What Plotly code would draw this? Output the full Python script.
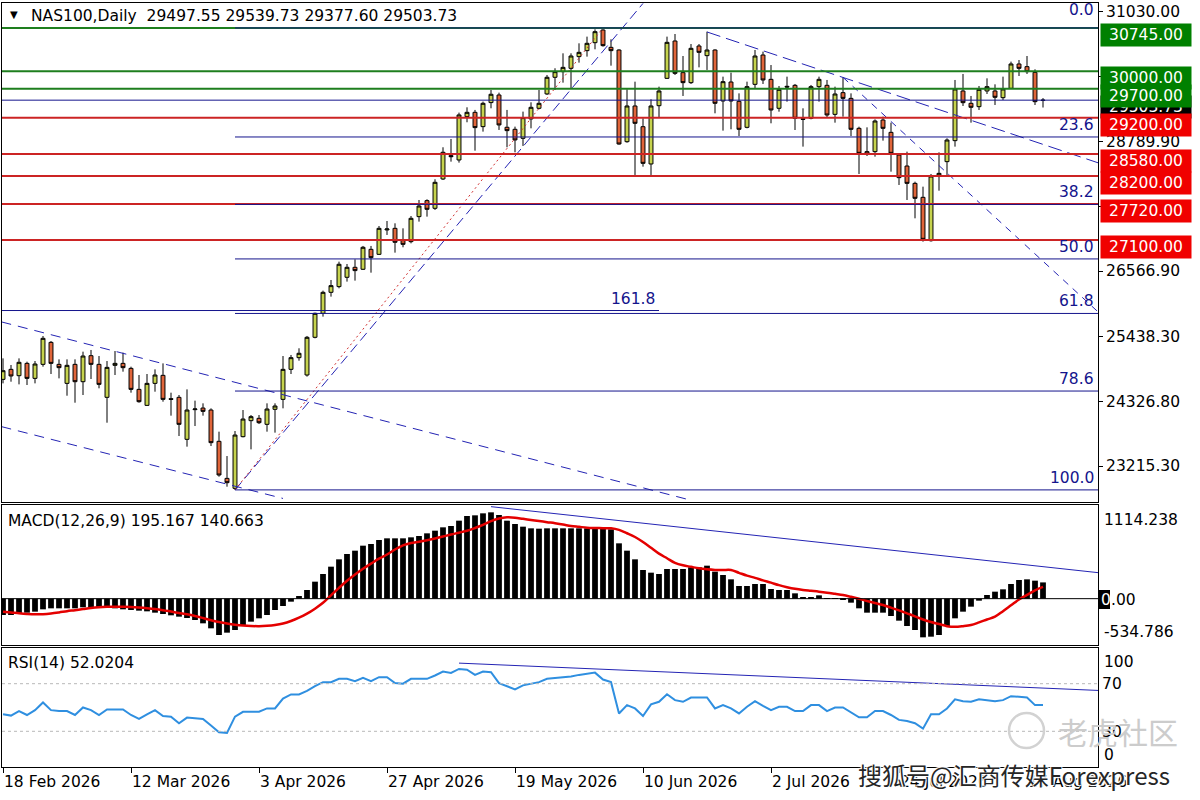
from plotly import graph_objects as go

# ---- values (bar index 0..130) ----
bar_open = [24705, 24877, 24768, 24980, 24722, 24963, 25341, 24963, 24636, 24963,
            24665, 25112, 24963, 24396, 24946, 24980, 24894, 24533, 24258, 24636,
            24774, 24373, 24396, 23674, 24184, 24212, 24178, 23640, 23003, 22832,
            23720, 23995, 24035, 23932, 24190, 24361, 24877, 25078, 24780, 25428,
            25840, 26201, 26299, 26459, 26631, 26597, 26940, 26854, 27273, 27301,
            27089, 27072, 27502, 27777, 27645, 28149, 28551, 28476, 29221, 29295,
            29049, 29462, 29593, 29038, 29003, 28848, 29181, 29364, 29611, 29897,
            29994, 30051, 30252, 30355, 30492, 30710, 30412, 30366, 28790, 29404,
            29048, 28407, 29409, 29879, 30521, 29977, 29805, 30435, 30269, 30366,
            29490, 29816, 29484, 29037, 29776, 30280, 29862, 29364, 29742, 29759,
            29186, 29192, 29736, 29759, 29260, 29633, 29535, 29020, 28619, 28619,
            29163, 28951, 28561, 28372, 28074, 27834, 27089, 28218, 28447, 28808,
            29662, 29450, 29392, 29662, 29662, 29547, 29707, 30126, 30080, 29982,
            29497.55]
bar_high = [25066, 24952, 25066, 25009, 25020, 25450, 25364, 25049, 25049, 25049,
            25181, 25210, 25106, 25020, 25192, 25164, 24923, 24780, 24797, 24877,
            24980, 24476, 24436, 24533, 24339, 24293, 24207, 23806, 23387, 23817,
            24178, 24092, 24092, 24293, 24293, 25106, 25124, 25239, 25451, 25852,
            26230, 26413, 26728, 26688, 26768, 26998, 26998, 27341, 27427, 27387,
            27301, 27513, 27788, 27800, 28144, 28694, 28837, 29290, 29381, 29336,
            29479, 29679, 29633, 29336, 29049, 29307, 29467, 29679, 29937, 30052,
            30309, 30309, 30481, 30596, 30722, 30722, 30550, 30378, 29690, 29822,
            29192, 29518, 29736, 30596, 30641, 30263, 30469, 30469, 30681, 30378,
            29908, 29977, 29621, 29822, 30366, 30338, 30108, 29747, 29908, 29782,
            29364, 29765, 29908, 29851, 29736, 29896, 29621, 29048, 29037, 29174,
            29220, 29117, 28590, 28619, 28103, 28017, 28235, 28607, 28848, 29851,
            29954, 29576, 29747, 29879, 29776, 29908, 30166, 30194, 30263, 30034,
            29539.73]
bar_low = [24636, 24665, 24619, 24608, 24636, 24923, 24797, 24722, 24424, 24304,
           24436, 24711, 24551, 23960, 24780, 24837, 24476, 24304, 24247, 24493,
           24321, 24081, 23731, 23548, 23903, 24081, 23559, 23032, 22860, 22805,
           23708, 23502, 23937, 23806, 23789, 24207, 24797, 25026, 24752, 25410,
           25783, 26127, 26270, 26385, 26402, 26585, 26539, 26843, 27187, 26883,
           26975, 27043, 27416, 27502, 27617, 28132, 28447, 28430, 29124, 28636,
           28963, 29364, 28992, 28694, 28608, 28717, 29020, 29347, 29593, 29679,
           29805, 29707, 30149, 30252, 30378, 30424, 30097, 28739, 28773, 28218,
           28361, 28218, 29209, 29868, 29937, 29576, 29782, 30068, 30023, 29278,
           28980, 29003, 28888, 29020, 29707, 29782, 29106, 29306, 29478, 28991,
           28705, 29175, 29478, 29209, 29117, 29220, 28888, 28235, 28544, 28533,
           28808, 28275, 28046, 27788, 27473, 27072, 27072, 27948, 28218, 28705,
           29404, 29117, 29335, 29610, 29421, 29507, 29696, 29919, 29954, 29421,
           29377.60]
bar_close = [24854, 24763, 24998, 24722, 24969, 25410, 24980, 24906, 24946, 24665,
             25106, 24963, 24619, 24911, 24980, 24906, 24533, 24321, 24636, 24780,
             24361, 24361, 23932, 24178, 24196, 24155, 23617, 23061, 22929, 23748,
             24023, 24064, 23960, 24195, 24247, 24877, 25078, 25153, 25428, 25840,
             26201, 26316, 26683, 26631, 26574, 26975, 26797, 27301, 27290, 27061,
             27026, 27473, 27685, 27628, 28092, 28608, 28533, 29250, 29295, 29032,
             29450, 29605, 29078, 28980, 28820, 29204, 29381, 29450, 29897, 29994,
             30068, 30263, 30326, 30481, 30681, 30441, 30355, 28750, 29404, 29106,
             28418, 29404, 29662, 30498, 29965, 29805, 30395, 30326, 30366, 29450,
             29822, 29490, 29003, 29736, 30263, 29851, 29335, 29690, 29730, 29192,
             29175, 29736, 29862, 29249, 29610, 29535, 29003, 28590, 28579, 29146,
             29020, 28590, 28172, 28074, 27817, 27112, 28200, 28246, 28819, 29696,
             29461, 29381, 29690, 29736, 29553, 29696, 30126, 30051, 29994, 29478,
             29503.73]

macd_main = [-196, -196, -176, -168, -156, -128, -116, -116, -116, -116,
             -104, -104, -108, -112, -116, -128, -136, -144, -152, -168,
             -184, -200, -216, -232, -256, -296, -356, -436, -408, -376,
             -316, -276, -236, -196, -136, -88, -36, 32, 104, 204,
             296, 384, 472, 536, 576, 636, 656, 704, 724, 724,
             724, 736, 752, 784, 816, 856, 872, 936, 992, 1000,
             1024, 1036, 1004, 936, 896, 864, 844, 840, 844, 844,
             844, 844, 844, 844, 848, 840, 832, 664, 576, 472,
             344, 312, 296, 356, 356, 356, 376, 376, 396, 324,
             284, 232, 152, 152, 176, 176, 116, 104, 104, 64,
             16, 16, 40, -4, -4, -8, -48, -116, -168, -168,
             -168, -208, -264, -328, -376, -464, -456, -436, -328, -236,
             -156, -96, -24, 44, 84, 112, 176, 224, 232, 216,
             195.167]
macd_signal = [-156, -165, -175, -183, -188, -186, -178, -165, -150, -138,
               -125, -112, -103, -98, -96, -97, -100, -106, -114, -124,
               -138, -155, -172, -188, -208, -232, -258, -280, -298, -312,
               -322, -328, -330, -326, -316, -298, -268, -228, -180, -120,
               -50, 40, 130, 215, 290, 360, 420, 480, 530, 590,
               640, 668, 684, 702, 722, 745, 770, 792, 815, 848,
               885, 930, 962, 976, 972, 958, 945, 932, 918, 905,
               890, 872, 862, 852, 848, 846, 844, 825, 785, 740,
               680, 610, 540, 485, 430, 400, 382, 364, 352, 345,
               344, 344, 310, 276, 250, 220, 192, 162, 138, 118,
               104, 94, 84, 72, 58, 44, 22, -2, -28, -52,
               -76, -108, -140, -176, -212, -250, -280, -305, -330, -338,
               -330, -316, -285, -250, -216, -150, -80, -10, 45, 100,
               140.663]
rsi_values = [44.3, 43.2, 47, 43.7, 47.8, 54.2, 47.8, 47, 47, 43.7,
              50, 47.8, 43.7, 48.4, 48.4, 48.4, 43.7, 40.4, 44.3, 47.8,
              42.9, 42.3, 36.8, 41.5, 40.9, 40.4, 34.9, 29.2, 28.6, 42.3,
              46.4, 46.4, 46.4, 49.2, 49.2, 57.5, 61, 61, 63.9, 68,
              71.3, 71.3, 74.1, 74.1, 72.1, 74.9, 72.1, 75.5, 75.5, 70.5,
              70, 74.1, 74.1, 74.1, 76.9, 80.2, 79.1, 82.4, 81.8, 77.4,
              80.2, 79.6, 70.5, 68, 65.2, 68.6, 70, 71.3, 74.1, 74.6,
              75.5, 76.1, 77.4, 78.3, 79.3, 73.5, 71.3, 45, 52, 49.2,
              42.9, 52.6, 54.8, 61.1, 56.2, 54.8, 58.4, 58.4, 58.4, 49.2,
              52, 49.2, 45, 50.6, 55.3, 51.4, 47.8, 50.6, 50.6, 47,
              47, 52, 52, 47, 50, 50, 45.9, 41.8, 41.8, 47,
              47, 43.7, 39.6, 38.7, 36.8, 32.2, 44.3, 44.3, 49.2, 56.9,
              55.3, 54.8, 56.9, 56.2, 55.3, 56.2, 59.5, 59, 58.4, 52,
              52.0204]

date_index = [0, 16, 32, 48, 64, 80, 96, 112, 128]
date_labels = ['18 Feb 2026', '12 Mar 2026', '3 Apr 2026', '27 Apr 2026', '19 May 2026',
               '10 Jun 2026', '2 Jul 2026', '24 Jul 2026', '17 Aug 2026']

price_ticks = [31030.00, 29909.95, 28789.90, 27678.40, 26566.90, 25438.30, 24326.80, 23215.30]
resistance = [30745, 30000, 29700]
support = [29200, 28580, 28200, 27720, 27100]
last_price = 29503.73

fib_ratios = [0.0, 23.6, 38.2, 50.0, 61.8, 78.6, 100.0]
fib_high = 30745
fib_low = 22805
fib_start = 29
fib_end = 75
ext_ratio = 161.8
ext_price = 25888
ext_span = [-1, 82]

# trendlines as (bar index, value) end points
tl_channel_up = ([-0.2, 86], [25693, 22627])
tl_channel_low = ([-0.2, 35], [23893, 22658])
tl_rise = ([29, 80], [22803, 31167])
tl_top = ([88, 137], [30676, 28422])
tl_steep = ([105, 137], [29896, 25850])
tl_macd = ([61, 137], [1104, 311])
tl_rsi = ([57, 137], [87.3, 64.3])

macd_top = 1114.238
macd_bottom = -534.786
rsi_levels = [70, 30]

# ---- styling ----
FONT = 'DejaVu Sans'
UP = '#c6d34e'
DOWN = '#e0653a'
NAVY = '#14148c'
BLUE = '#2424b4'
GREEN_LINE = '#1e7e1e'
RED_LINE = '#cc2424'
X_RANGE = [-0.125, 136.875]


def xp(px):
    return (px - 2) / 1096


def yp(py):
    return (767 - py) / 764


idx = list(range(len(bar_close)))

fig = go.Figure()

fig.add_trace(go.Candlestick(
    x=idx, open=bar_open, high=bar_high, low=bar_low, close=bar_close,
    xaxis='x', yaxis='y', whiskerwidth=0, hoverinfo='skip',
    increasing=dict(fillcolor=UP, line=dict(color='black', width=1)),
    decreasing=dict(fillcolor=DOWN, line=dict(color='black', width=1)),
))

for xs, ys, dash, color in [
    (tl_channel_up[0], tl_channel_up[1], '10px,7px', BLUE),
    (tl_channel_low[0], tl_channel_low[1], '10px,7px', BLUE),
    (tl_rise[0], tl_rise[1], '10px,5px', BLUE),
    ([fib_start, fib_end], [fib_low, fib_high], '2px,3px', '#d03030'),
    (tl_top[0], tl_top[1], '14px,6px', BLUE),
    (tl_steep[0], tl_steep[1], '7px,6px', BLUE),
]:
    fig.add_trace(go.Scatter(x=xs, y=ys, mode='lines', xaxis='x', yaxis='y',
                             line=dict(color=color, width=1, dash=dash), hoverinfo='skip'))

# MACD panel
fig.add_trace(go.Bar(x=idx, y=macd_main, xaxis='x2', yaxis='y2', width=0.72,
                     marker=dict(color='black', line=dict(width=0)), hoverinfo='skip'))
fig.add_trace(go.Scatter(x=idx, y=macd_signal, xaxis='x2', yaxis='y2', mode='lines',
                         line=dict(color='#e40000', width=2.5, shape='spline'), hoverinfo='skip'))
fig.add_trace(go.Scatter(x=tl_macd[0], y=tl_macd[1], xaxis='x2', yaxis='y2', mode='lines',
                         line=dict(color=BLUE, width=1), hoverinfo='skip'))

# RSI panel
fig.add_trace(go.Scatter(x=idx, y=rsi_values, xaxis='x3', yaxis='y3', mode='lines',
                         line=dict(color='#2f8fe0', width=2), hoverinfo='skip'))
fig.add_trace(go.Scatter(x=tl_rsi[0], y=tl_rsi[1], xaxis='x3', yaxis='y3', mode='lines',
                         line=dict(color=BLUE, width=1), hoverinfo='skip'))

shapes = []
annotations = []

# horizontal support / resistance lines
for lvl in resistance:
    shapes.append(dict(type='line', xref='x', yref='y', x0=X_RANGE[0], x1=X_RANGE[1],
                       y0=lvl, y1=lvl, line=dict(color=GREEN_LINE, width=2)))
for lvl in support:
    shapes.append(dict(type='line', xref='x', yref='y', x0=X_RANGE[0], x1=X_RANGE[1],
                       y0=lvl, y1=lvl, line=dict(color=RED_LINE, width=2)))
shapes.append(dict(type='line', xref='x', yref='y', x0=X_RANGE[0], x1=X_RANGE[1],
                   y0=last_price, y1=last_price, line=dict(color=NAVY, width=1)))

# fibonacci levels
for r in fib_ratios:
    lvl = fib_high - r / 100 * (fib_high - fib_low)
    shapes.append(dict(type='line', xref='x', yref='y', x0=fib_start, x1=X_RANGE[1],
                       y0=lvl, y1=lvl, line=dict(color=NAVY, width=1)))
    annotations.append(dict(xref='paper', yref='y', x=xp(1096), y=lvl, xanchor='right',
                            yanchor='bottom', yshift=7 if r == 0 else 1, showarrow=False,
                            text='%.1f' % r, font=dict(family=FONT, size=15.5, color=NAVY)))
shapes.append(dict(type='line', xref='x', yref='y', x0=ext_span[0], x1=ext_span[1],
                   y0=ext_price, y1=ext_price, line=dict(color=NAVY, width=1)))
annotations.append(dict(xref='x', yref='y', x=ext_span[1] - 0.2, y=ext_price, xanchor='right',
                        yanchor='bottom', yshift=1, showarrow=False, text='%.1f' % ext_ratio,
                        font=dict(family=FONT, size=15.5, color=NAVY)))

# MACD zero line and RSI levels
shapes.append(dict(type='line', xref='x2', yref='y2', x0=X_RANGE[0], x1=X_RANGE[1],
                   y0=0, y1=0, line=dict(color='black', width=1)))
for lvl in rsi_levels:
    shapes.append(dict(type='line', xref='x3', yref='y3', x0=X_RANGE[0], x1=X_RANGE[1],
                       y0=lvl, y1=lvl, line=dict(color='#b8b8b8', width=1, dash='3px,3px')))

# price labels on the right
annotations.append(dict(xref='paper', yref='y', x=xp(1100), y=last_price, xanchor='left',
                        yanchor='top', yshift=5, width=88, height=20, bgcolor='black',
                        showarrow=False, text='%.2f' % last_price,
                        font=dict(family=FONT, size=15.5, color='white')))
for lvl in resistance:
    annotations.append(dict(xref='paper', yref='y', x=xp(1100), y=lvl, xanchor='left',
                            yanchor='top', yshift=5, width=88, height=20, bgcolor='#008000',
                            showarrow=False, text='%.2f' % lvl,
                            font=dict(family=FONT, size=15.5, color='white')))
for lvl in support:
    annotations.append(dict(xref='paper', yref='y', x=xp(1100), y=lvl, xanchor='left',
                            yanchor='top', yshift=5, width=88, height=20, bgcolor='#f00000',
                            showarrow=False, text='%.2f' % lvl,
                            font=dict(family=FONT, size=15.5, color='white')))

# MACD scale labels
annotations.append(dict(xref='paper', yref='y2', x=xp(1102), y=macd_top, xanchor='left',
                        yanchor='top', yshift=-3, showarrow=False, text='%.3f' % macd_top,
                        font=dict(family=FONT, size=15.5, color='black')))
annotations.append(dict(xref='paper', yref='y2', x=xp(1102), y=macd_bottom, xanchor='left',
                        yanchor='bottom', showarrow=False, text='%.3f' % macd_bottom,
                        font=dict(family=FONT, size=15.5, color='black')))
shapes.append(dict(type='rect', xref='paper', yref='paper', x0=xp(1099), x1=xp(1110),
                   y0=yp(609), y1=yp(590), fillcolor='black', line=dict(width=0)))
annotations.append(dict(xref='paper', yref='y2', x=xp(1099), y=0, xanchor='left',
                        yanchor='middle', yshift=-1, showarrow=False, text='0',
                        font=dict(family=FONT, size=15.5, color='white')))
annotations.append(dict(xref='paper', yref='y2', x=xp(1109), y=0, xanchor='left',
                        yanchor='middle', yshift=-1, showarrow=False, text='.00',
                        font=dict(family=FONT, size=15.5, color='black')))

# RSI scale labels at the edges
annotations.append(dict(xref='paper', yref='y3', x=xp(1102), y=100, xanchor='left',
                        yanchor='top', yshift=-3, showarrow=False, text='100',
                        font=dict(family=FONT, size=15.5, color='black')))
annotations.append(dict(xref='paper', yref='y3', x=xp(1102), y=0, xanchor='left',
                        yanchor='bottom', yshift=1, showarrow=False, text='0',
                        font=dict(family=FONT, size=15.5, color='black')))

# window titles
annotations.append(dict(xref='paper', yref='paper', x=xp(8), y=yp(15), xanchor='left',
                        yanchor='middle', showarrow=False, text='\u25bc',
                        font=dict(family=FONT, size=10, color='black')))
annotations.append(dict(xref='paper', yref='paper', x=xp(29), y=yp(16), xanchor='left',
                        yanchor='middle', showarrow=False,
                        text='NAS100,Daily&nbsp;&nbsp;%.2f %.2f %.2f %.2f' % (
                            bar_open[-1], bar_high[-1], bar_low[-1], bar_close[-1]),
                        font=dict(family=FONT, size=15.5, color='black')))
annotations.append(dict(xref='paper', yref='paper', x=xp(6), y=yp(521), xanchor='left',
                        yanchor='middle', showarrow=False,
                        text='MACD(12,26,9) %.3f %.3f' % (macd_main[-1], macd_signal[-1]),
                        font=dict(family=FONT, size=15.5, color='black')))
annotations.append(dict(xref='paper', yref='paper', x=xp(6), y=yp(663), xanchor='left',
                        yanchor='middle', showarrow=False,
                        text='RSI(14) %.4f' % rsi_values[-1],
                        font=dict(family=FONT, size=15.5, color='black')))

# watermarks
shapes.append(dict(type='circle', xref='paper', yref='paper', x0=xp(1009), x1=xp(1044),
                   y0=yp(748), y1=yp(713), line=dict(color='#d2d2d2', width=2.5)))
annotations.append(dict(xref='paper', yref='paper', x=xp(1056), y=yp(731), xanchor='left',
                        yanchor='middle', showarrow=False, text='老虎社区',
                        font=dict(family='Noto Sans CJK SC', size=30, color='#cccccc')))
annotations.append(dict(xref='paper', yref='paper', x=xp(856), y=yp(774), xanchor='left',
                        yanchor='middle', showarrow=False, text='搜狐号@汇商传媒Forexpress',
                        font=dict(family='Noto Sans CJK SC', size=24, color='#262626',
                                  shadow='1px 1px 1px #fff, -1px -1px 1px #fff, 1px -1px 1px #fff, -1px 1px 1px #fff')))

axis_common = dict(showline=True, mirror=True, linecolor='black', linewidth=1,
                   showgrid=False, zeroline=False)

fig.update_layout(
    width=1200, height=800,
    margin=dict(l=2, r=102, t=3, b=33),
    paper_bgcolor='white', plot_bgcolor='white',
    showlegend=False,
    font=dict(family=FONT, size=15.5, color='black'),
    xaxis=dict(domain=[0, 1], range=X_RANGE, anchor='y', showticklabels=False,
               rangeslider=dict(visible=False), **axis_common),
    xaxis2=dict(domain=[0, 1], range=X_RANGE, anchor='y2', matches='x',
                showticklabels=False, **axis_common),
    xaxis3=dict(domain=[0, 1], range=X_RANGE, anchor='y3', matches='x',
                tickvals=date_index, ticktext=date_labels, ticks='outside', ticklen=5,
                tickcolor='black', ticklabelposition='outside right',
                tickfont=dict(family=FONT, size=15.5, color='black'), **axis_common),
    yaxis=dict(domain=[yp(502), 1], range=[22597, 31174], anchor='x', side='right',
               tickvals=price_ticks, ticktext=['%.2f' % v for v in price_ticks],
               ticks='outside', ticklen=4, tickcolor='black',
               tickfont=dict(family=FONT, size=15.5, color='black'), **axis_common),
    yaxis2=dict(domain=[yp(645), yp(505)], range=[-556, 1124], anchor='x2', side='right',
                showticklabels=False, **axis_common),
    yaxis3=dict(domain=[0, yp(648)], range=[0, 100], anchor='x3', side='right',
                tickvals=rsi_levels, ticktext=[str(v) for v in rsi_levels],
                tickfont=dict(family=FONT, size=15.5, color='black'), **axis_common),
    shapes=shapes,
    annotations=annotations,
)

# the page's default body margin would shift the chart by 8px
fig.write_html('out.html', config={'displayModeBar': False},
               post_script="document.body.style.margin='0';")
